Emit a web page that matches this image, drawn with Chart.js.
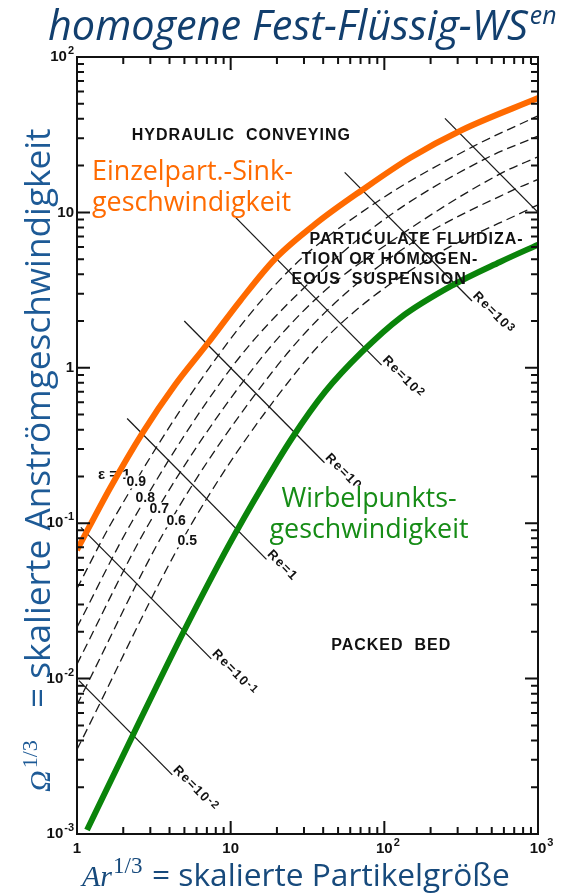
<!DOCTYPE html>
<html>
<head>
<meta charset="utf-8">
<script src="https://cdn.jsdelivr.net/npm/chart.js@4.4.1/dist/chart.umd.min.js"></script>
<style>
  html, body { margin: 0; padding: 0; background: #fff; }
  canvas { display: block; }
</style>
</head>
<body>
<canvas id="c" width="575" height="896"></canvas>
<script>
// Ar^(1/3) (x) vs Omega^(1/3) (y), both logarithmic
const sinkX = [1, 1.64, 2.69, 4.34, 7.12, 11.5, 19.4, 37, 71.5, 146.9, 320, 1000];
const sinkY = [0.0672, 0.168, 0.386, 0.775, 1.444, 2.69, 5.01, 8.68, 13.9, 22.4, 33.9, 54.4];

const mfX = [1.162, 2.314, 4.895, 9.75, 16.0, 25.1, 41.1, 71.5, 126.5, 279.8, 565.7, 1000];
const mfY = [0.00106, 0.00434, 0.01965, 0.0725, 0.171, 0.3534, 0.699, 1.264, 2.09, 3.41, 4.8, 6.2];

// dashed porosity curves eps = 0.9 ... 0.5
const epsNames = ['0.9', '0.8', '0.7', '0.6', '0.5'];
const epsX = [
  [1, 1.67, 7.26, 23.8, 82.8, 377, 1000],
  [1, 2.25, 10.1, 30.3, 99.1, 452, 1000],
  [1, 2.95, 14.1, 37.3, 122.3, 566, 1000],
  [1, 3.98, 19.6, 46.1, 155.5, 709, 1000],
  [1, 5.6, 28.1, 56.8, 203.8, 929, 1000]
];
const epsY = [
  [0.038, 0.1, 1, 4.2, 11.1, 26.5, 41.8],
  [0.0214, 0.1, 1, 3.3, 8.97, 22.1, 31],
  [0.0124, 0.1, 1, 2.88, 6.95, 17.7, 22.8],
  [0.0068, 0.1, 1, 2.53, 6.48, 14.1, 16.3],
  [0.0035, 0.1, 1, 2.08, 5.16, 10.8, 11.2]
];
// where the eps labels sit on their curves
const epsLabelX = [2.43, 2.78, 3.43, 4.42, 5.22];
const epsLabelY = [0.183, 0.144, 0.1227, 0.1028, 0.0764];

// constant Reynolds number lines
const reBase = ['Re=10', 'Re=10', 'Re=1', 'Re=10', 'Re=10', 'Re=10', ''];
const reExp = ['-2', '-1', '', '', '2', '3', ''];
const reFromX = [1.03, 1.06, 2.12, 4.99, 10.8, 55.2, 248];
const reFromY = [0.0097, 0.094, 0.472, 2.0, 9.26, 18.1, 40.3];
const reToX = [4.17, 7.48, 17.1, 40.8, 96, 372, 1000];
const reToY = [0.0024, 0.0134, 0.0585, 0.245, 1.04, 2.69, 10];

const xDecades = [1, 10, 100, 1000];
const xTickText = [['1', ''], ['10', ''], ['10', '2'], ['10', '3']];
const yDecades = [0.001, 0.01, 0.1, 1, 10, 100];
const yTickText = [['10', '-3'], ['10', '-2'], ['10', '-1'], ['1', ''], ['10', ''], ['10', '2']];

const ORANGE = '#ff6a00';
const GREEN = '#0a840a';
const NAVY = '#123f6e';

const pts = (xs, ys) => xs.map((x, i) => ({ x, y: ys[i] }));

const datasets = [
  { data: pts(sinkX, sinkY), borderColor: ORANGE, borderWidth: 6, cubicInterpolationMode: 'monotone' },
  { data: pts(mfX, mfY), borderColor: GREEN, borderWidth: 6, cubicInterpolationMode: 'monotone' },
  ...epsX.map((xs, i) => ({
    data: pts(xs, epsY[i]), borderColor: '#1a1a1a', borderWidth: 1.3,
    borderDash: [9, 5], cubicInterpolationMode: 'monotone'
  })),
  ...reFromX.map((x0, i) => ({
    data: [{ x: x0, y: reFromY[i] }, { x: reToX[i], y: reToY[i] }],
    borderColor: '#1a1a1a', borderWidth: 1.3
  }))
].map(d => Object.assign({ showLine: true, pointRadius: 0, clip: 0, fill: false }, d));

function fitSize(ctx, text, style, family, target, base) {
  ctx.font = `${style} ${base}px ${family}`;
  return base * target / ctx.measureText(text).width;
}

function powLabel(ctx, base, exp, x, y, align) {
  ctx.font = 'bold 15px "Liberation Sans"';
  const wb = ctx.measureText(base).width;
  ctx.font = 'bold 11px "Liberation Sans"';
  const we = exp ? ctx.measureText(exp).width + 1 : 0;
  const x0 = align === 'right' ? x - wb - we : x - wb / 2;
  ctx.textAlign = 'left';
  ctx.textBaseline = 'middle';
  ctx.font = 'bold 15px "Liberation Sans"';
  ctx.fillText(base, x0, y);
  if (exp) {
    ctx.font = 'bold 11px "Liberation Sans"';
    ctx.fillText(exp, x0 + wb + 1, y - 6);
  }
}

function spaced(ctx, text, x, y, align) {
  ctx.save();
  ctx.font = 'bold 16px "Liberation Sans"';
  ctx.letterSpacing = '1px';
  ctx.fillStyle = '#111';
  ctx.textAlign = align;
  ctx.textBaseline = 'middle';
  ctx.fillText(text, x, y);
  ctx.restore();
}

const overlay = {
  id: 'overlay',
  beforeDatasetsDraw(chart) {
    const ctx = chart.ctx, xs = chart.scales.x, ys = chart.scales.y;
    ctx.save();
    ctx.font = 'bold 15px "Liberation Sans"';
    ctx.fillStyle = '#111';
    ctx.textBaseline = 'middle';
    ctx.fillText('ε = 1', xs.getPixelForValue(1.37), ys.getPixelForValue(0.206));
    ctx.restore();
  },
  afterDatasetsDraw(chart) {
    const ctx = chart.ctx, xs = chart.scales.x, ys = chart.scales.y;
    const { left, right, top, bottom } = chart.chartArea;
    const px = v => xs.getPixelForValue(v), py = v => ys.getPixelForValue(v);

    // Re labels along their lines
    ctx.save();
    ctx.fillStyle = '#111';
    reBase.forEach((name, i) => {
      if (!name) return;
      const x0 = px(reFromX[i]), y0 = py(reFromY[i]);
      const x1 = px(reToX[i]), y1 = py(reToY[i]);
      const ang = Math.atan2(y1 - y0, x1 - x0);
      const ux = Math.cos(ang), uy = Math.sin(ang);
      ctx.save();
      ctx.translate(x1 - 3 * ux + 7 * uy, y1 - 3 * uy - 7 * ux);
      ctx.rotate(ang);
      ctx.textAlign = 'left';
      ctx.textBaseline = 'middle';
      ctx.letterSpacing = '1.5px';
      ctx.font = 'bold 13px "Liberation Sans"';
      ctx.fillText(name, 0, 0);
      const w = ctx.measureText(name).width;
      if (reExp[i]) {
        ctx.font = 'bold 11px "Liberation Sans"';
        ctx.fillText(reExp[i], w, -2);
      }
      ctx.restore();
    });
    ctx.restore();

    // eps labels sit in gaps of their dashed curves
    ctx.save();
    ctx.font = 'bold 14px "Liberation Sans"';
    ctx.textAlign = 'center';
    ctx.textBaseline = 'middle';
    epsNames.forEach((n, i) => {
      const x = px(epsLabelX[i]), y = py(epsLabelY[i]);
      const w = ctx.measureText(n).width;
      ctx.fillStyle = '#fff';
      ctx.fillRect(x - w / 2 - 1, y - 7, w + 2, 13);
      ctx.fillStyle = '#111';
      ctx.fillText(n, x, y);
    });
    ctx.restore();

    // region names
    spaced(ctx, 'HYDRAULIC  CONVEYING', px(11.74), py(31.0), 'center');
    spaced(ctx, 'PARTICULATE FLUIDIZA-', px(32.6), py(6.67), 'left');
    spaced(ctx, 'TION OR HOMOGEN-', px(28.9), py(4.95), 'left');
    spaced(ctx, 'EOUS  SUSPENSION', px(24.9), py(3.69), 'left');
    spaced(ctx, 'PACKED  BED', px(110.8), py(0.0164), 'center');

    // coloured curve captions
    const capSize = fitSize(ctx, 'geschwindigkeit', 'normal', '"Open Sans"', 199, 24);
    ctx.save();
    ctx.font = `${capSize}px "Open Sans"`;
    ctx.textAlign = 'left';
    ctx.textBaseline = 'alphabetic';
    ctx.fillStyle = ORANGE;
    ctx.fillText('Einzelpart.-Sink-', px(1.253), py(16.2));
    ctx.fillText('geschwindigkeit', px(1.253), py(10.2));
    const gx1 = px(21.4), gy1 = py(0.128), gx2 = px(17.9), gy2 = py(0.0799);
    ctx.fillStyle = '#fff';
    ctx.fillRect(gx2 - 2, gy1 - capSize * 0.78, 202, gy2 - gy1 + capSize * 1.05);
    ctx.fillStyle = '#168c16';
    ctx.fillText('Wirbelpunkts-', gx1, gy1);
    ctx.fillText('geschwindigkeit', gx2, gy2);
    ctx.restore();

    // frame and inward ticks
    ctx.save();
    ctx.strokeStyle = '#111';
    ctx.lineWidth = 2;
    ctx.strokeRect(left, top, right - left, bottom - top);
    ctx.beginPath();
    for (let d = 1; d <= 1000; d *= 10) {
      for (let k = 1; k < 10; k++) {
        const v = d * k;
        if (v > 1000) break;
        const x = px(v);
        const len = k === 1 ? 13 : 7;
        if (v > 1 && v < 1000) {
          ctx.moveTo(x, bottom); ctx.lineTo(x, bottom - len);
          ctx.moveTo(x, top); ctx.lineTo(x, top + len);
        }
      }
    }
    for (let d = 0.001; d <= 100; d *= 10) {
      for (let k = 1; k < 10; k++) {
        const v = d * k;
        if (v > 100.001) break;
        const y = py(v);
        const len = k === 1 ? 13 : 7;
        if (y > top + 1 && y < bottom - 1) {
          ctx.moveTo(left, y); ctx.lineTo(left + len, y);
          ctx.moveTo(right, y); ctx.lineTo(right - len, y);
        }
      }
    }
    ctx.stroke();
    ctx.restore();

    // tick labels
    ctx.save();
    ctx.fillStyle = '#111';
    xDecades.forEach((v, i) => powLabel(ctx, xTickText[i][0], xTickText[i][1], px(v), bottom + 15, 'center'));
    yDecades.forEach((v, i) => powLabel(ctx, yTickText[i][0], yTickText[i][1], left - 3, py(v), 'right'));
    ctx.restore();

    // chart title
    ctx.save();
    ctx.fillStyle = NAVY;
    ctx.textBaseline = 'alphabetic';
    const tSize = fitSize(ctx, 'homogene Fest-Flüssig-WS', 'italic', '"Open Sans"', 480, 36);
    ctx.font = `italic ${tSize}px "Open Sans"`;
    ctx.fillText('homogene Fest-Flüssig-WS', 48, 40);
    const tw = ctx.measureText('homogene Fest-Flüssig-WS').width;
    ctx.font = `italic ${tSize * 0.6}px "Open Sans"`;
    ctx.fillText('en', 48 + tw + 2, 24);
    ctx.restore();

    // x axis title
    ctx.save();
    ctx.fillStyle = '#174a7c';
    ctx.textBaseline = 'alphabetic';
    ctx.font = 'italic 30px "Liberation Serif"';
    ctx.fillText('Ar', 82, 886);
    const xw = 82 + ctx.measureText('Ar').width;
    ctx.font = '23px "Liberation Serif"';
    ctx.fillText('1/3', xw + 1, 873);
    const xs2 = fitSize(ctx, '= skalierte Partikelgröße', 'normal', '"Open Sans"', 358, 28);
    ctx.font = `${xs2}px "Open Sans"`;
    ctx.fillText('= skalierte Partikelgröße', 152, 886);
    ctx.restore();

    // y axis title, rotated
    ctx.save();
    ctx.fillStyle = '#1d5a96';
    ctx.translate(50, 792);
    ctx.rotate(-Math.PI / 2);
    ctx.textBaseline = 'alphabetic';
    ctx.font = 'italic 30px "Liberation Serif"';
    ctx.fillText('Ω', 0, 0);
    const ow = ctx.measureText('Ω').width;
    ctx.font = '22px "Liberation Serif"';
    ctx.fillText('1/3', ow + 2, -13);
    const ys2 = fitSize(ctx, '= skalierte Anströmgeschwindigkeit', 'normal', '"Open Sans"', 580, 28);
    ctx.font = `${ys2}px "Open Sans"`;
    ctx.fillText('= skalierte Anströmgeschwindigkeit', 84, 0);
    ctx.restore();
  }
};

new Chart(document.getElementById('c'), {
  type: 'scatter',
  data: { datasets },
  options: {
    responsive: false,
    animation: false,
    devicePixelRatio: 1,
    layout: { padding: { left: 77, right: 37, top: 57, bottom: 62 } },
    scales: {
      x: { type: 'logarithmic', min: 1, max: 1000, display: false },
      y: { type: 'logarithmic', min: 0.001, max: 100, display: false }
    },
    plugins: { legend: { display: false }, tooltip: { enabled: false } }
  },
  plugins: [overlay]
});
</script>
</body>
</html>
